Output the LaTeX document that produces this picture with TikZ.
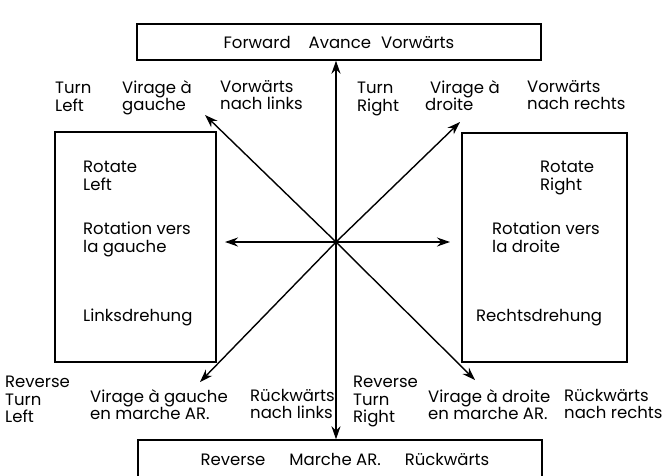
\documentclass[tikz,border=0pt]{standalone}
\usepackage{fontspec}
\setmainfont{Poppins}
\usetikzlibrary{arrows.meta}
\begin{document}
\begin{tikzpicture}[x=1pt,y=-1pt,
  box/.style={draw, line width=1.4pt, inner sep=0pt, font=\fontsize{16.5}{17.5}\selectfont},
  lbl/.style={anchor=north west, align=left, inner sep=0pt, font=\fontsize{16.5}{17.5}\selectfont},
  arr/.style={-{Stealth[length=13pt,width=9pt]}, line width=1.4pt}]
\useasboundingbox (0,0) rectangle (666,475);
% boxes
\node[box, minimum width=404pt, minimum height=36pt] (fwd) at (339,42) {\raisebox{-1pt}{Forward\hspace{18pt}Avance\hspace{10pt}Vorwärts}};
\node[box, minimum width=161pt, minimum height=230pt] (lbox) at (135.5,247) {};
\node[box, minimum width=165pt, minimum height=229pt] (rbox) at (544.5,247.5) {};
\node[box, minimum width=404pt, minimum height=44pt, text depth=0pt] (rev) at (340,462) {\hspace{10pt}\raisebox{5pt}{Reverse\hspace{24pt}Marche AR.\hspace{24pt}Rückwärts}};
% centre and arrow ends
\coordinate (c) at (336,242);
\coordinate (ul) at (205,115);
\coordinate (ur) at (460,122);
\coordinate (dl) at (200,382);
\coordinate (dr) at (475,380);
\coordinate (le) at (225,242);
\coordinate (ri) at (450,242);
\draw[arr] (c) -- (c |- fwd.south);
\draw[arr] (c) -- (c |- rev.north);
\draw[arr] (c) -- (le);
\draw[arr] (c) -- (ri);
\draw[arr] (c) -- (ul);
\draw[arr] (c) -- (ur);
\draw[arr] (c) -- (dl);
\draw[arr] (c) -- (dr);
% labels top
\node[lbl] (tl1) at (55,82) {Turn\\Left};
\node[lbl] (tl2) at (122,80) {Virage à\\gauche};
\node[lbl] (tl3) at (220,80) {Vorwärts\\nach links};
\node[lbl] (tr1) at (357,82) {Turn\\Right};
\node[lbl] (tr2) at (425,80) {\hspace{5pt}Virage à\\droite};
\node[lbl] (tr3) at (527,80) {Vorwärts\\nach rechts};
% labels in boxes
\node[lbl] (rl1) at (83,161) {Rotate\\Left};
\node[lbl] (rl2) at (83,222) {Rotation vers\\la gauche};
\node[lbl] (rl3) at (83,309) {Linksdrehung};
\node[lbl] (rr1) at (540,161) {Rotate\\Right};
\node[lbl] (rr2) at (492,222) {Rotation vers\\la droite};
\node[lbl] (rr3) at (476,309) {Rechtsdrehung};
% labels bottom
\node[lbl] (bl1) at (5,376) {Reverse\\Turn\\Left};
\node[lbl] (bl2) at (90,389) {Virage à gauche\\en marche AR.};
\node[lbl] (bl3) at (250,389) {Rückwärts\\nach links};
\node[lbl] (br1) at (353,376) {Reverse\\Turn\\Right};
\node[lbl] (br2) at (428,389) {Virage à droite\\en marche AR.};
\node[lbl] (br3) at (564,389) {Rückwärts\\nach rechts};
\end{tikzpicture}
\end{document}
